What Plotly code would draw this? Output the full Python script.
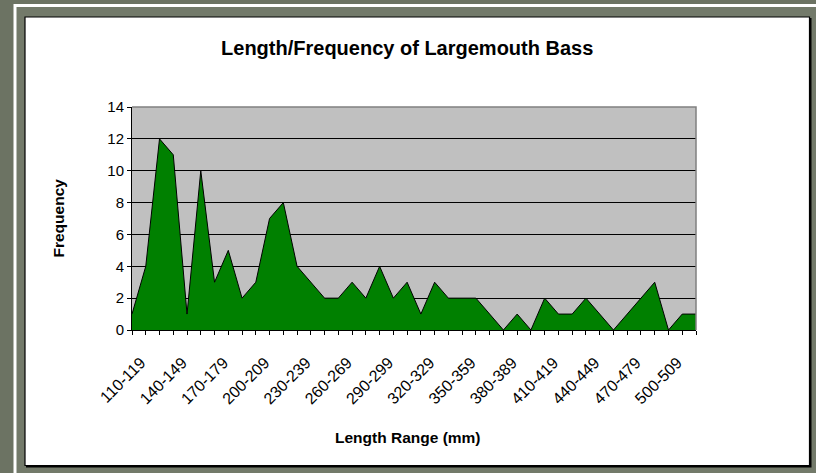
import plotly.graph_objects as go

categories = [
    "110-119", "120-129", "130-139", "140-149", "150-159", "160-169", "170-179",
    "180-189", "190-199", "200-209", "210-219", "220-229", "230-239", "240-249",
    "250-259", "260-269", "270-279", "280-289", "290-299", "300-309", "310-319",
    "320-329", "330-339", "340-349", "350-359", "360-369", "370-379", "380-389",
    "390-399", "400-409", "410-419", "420-429", "430-439", "440-449", "450-459",
    "460-469", "470-479", "480-489", "490-499", "500-509", "510-519", "520-529",
]
frequency = [1, 4, 12, 11, 1, 10, 3, 5, 2, 3, 7, 8, 4, 3, 2, 2, 3, 2, 4, 2, 3,
             1, 3, 2, 2, 2, 1, 0, 1, 0, 2, 1, 1, 2, 1, 0, 1, 2, 3, 0, 1, 1]
labeled = ["110-119", "140-149", "170-179", "200-209", "230-239", "260-269",
           "290-299", "320-329", "350-359", "380-389", "410-419", "440-449",
           "470-479", "500-509"]
y_ticks = [0, 2, 4, 6, 8, 10, 12, 14]

W, H = 816, 473
ML, MR, MT, MB = 132, 120, 107, 143
PW, PH = W - ML - MR, H - MT - MB


def px(x):
    return (x - ML) / PW


def py(y):
    return 1 - (y - MT) / PH


FONT = "Liberation Sans, Arial, sans-serif"
BG = "#6c7363"

idx = list(range(len(categories)))
ticktext = [c if c in labeled else "" for c in categories]

fig = go.Figure()
fig.add_trace(go.Scatter(
    x=idx, y=frequency, mode="lines", fill="tozeroy",
    fillcolor="#008000", line=dict(color="black", width=1),
    hoverinfo="skip", showlegend=False,
))

shapes = [
    # white frame line
    dict(type="rect", xref="paper", yref="paper", layer="below",
         x0=px(15), x1=px(840), y0=py(5.5), y1=py(500),
         line=dict(color="white", width=3), fillcolor="#737a6a"),
    # chart box shadow
    dict(type="rect", xref="paper", yref="paper", layer="below",
         x0=px(26), x1=px(811.5), y0=py(18), y1=py(467.5),
         line=dict(width=0), fillcolor="black"),
    # chart box
    dict(type="rect", xref="paper", yref="paper", layer="below",
         x0=px(25), x1=px(809.5), y0=py(17), y1=py(465.5),
         line=dict(color="black", width=1.2), fillcolor="white"),
    # plot area
    dict(type="rect", xref="x domain", yref="y domain", layer="below",
         x0=0, x1=1, y0=0, y1=1, line=dict(width=0), fillcolor="#c0c0c0"),
    # gray top/right border
    dict(type="path", xref="x domain", yref="y domain", layer="above",
         path="M 0,1 L 1,1 L 1,0", line=dict(color="#808080", width=1.5)),
]

fig.update_layout(
    width=W, height=H,
    margin=dict(l=ML, r=MR, t=MT, b=MB, autoexpand=False),
    paper_bgcolor=BG, plot_bgcolor="rgba(0,0,0,0)",
    font=dict(family=FONT, color="black", size=14),
    title=dict(text="<b>Length/Frequency of Largemouth Bass</b>",
               x=0.499, xanchor="center", y=1 - 48 / H, yanchor="middle",
               font=dict(size=20, family=FONT, color="black")),
    shapes=shapes,
    showlegend=False,
    annotations=[
        dict(text="<b>Frequency</b>", xref="paper", yref="paper",
             x=px(58), y=0.5, textangle=-90, showarrow=False,
             xanchor="center", yanchor="middle",
             font=dict(size=15.5, family=FONT)),
        dict(text="<b>Length Range (mm)</b>", xref="paper", yref="paper",
             x=px(408), y=py(437), showarrow=False,
             xanchor="center", yanchor="middle",
             font=dict(size=15.5, family=FONT)),
    ],
)

fig.update_xaxes(
    range=[0, len(categories) - 1], tickmode="array", tickvals=idx,
    ticktext=ticktext, tickangle=-45, ticks="outside", ticklen=4,
    tickcolor="black", tickwidth=1, showline=True, linecolor="black",
    linewidth=1, showgrid=False, zeroline=False, automargin=False,
    ticklabelstandoff=12, ticklabelshift=9,
    tickfont=dict(size=16, family=FONT, color="black"),
)
fig.update_yaxes(
    range=[0, 14], tickmode="array", tickvals=y_ticks, ticks="outside",
    ticklen=4, tickcolor="black", tickwidth=1, showline=True,
    linecolor="black", linewidth=1, showgrid=True, gridcolor="black",
    gridwidth=1, zeroline=False, automargin=False,
    tickfont=dict(size=15, family=FONT, color="black"),
)

fig.write_html(
    "out.html",
    config={"displayModeBar": False},
    post_script="document.body.style.margin='0';"
                "document.body.style.overflow='hidden';",
)
